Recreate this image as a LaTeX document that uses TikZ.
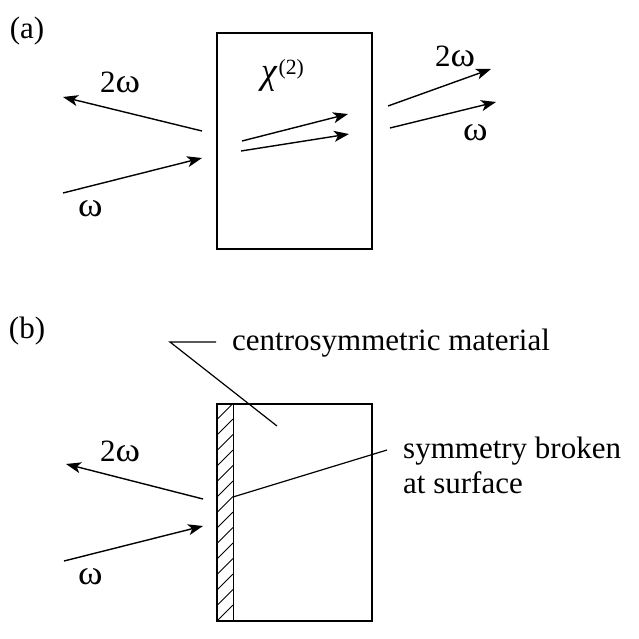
\documentclass[tikz,border=0pt]{standalone}
\usepackage{graphicx}
\usepackage{fontspec}
\setmainfont{Liberation Serif}
\usetikzlibrary{arrows.meta}
\newcommand{\omg}{\scalebox{1.2}[1.1]{ω}}
\begin{document}
\begin{tikzpicture}[x=1pt,y=-1pt,
  lbl/.style={inner sep=0pt,font=\fontsize{31}{35}\selectfont},
  ray/.style={line width=1.4pt,-{Stealth[length=15pt,width=11pt,inset=4pt]}},
  frame/.style={line width=1.4pt},
  leader/.style={line width=1.2pt}]
\useasboundingbox (0,0) rectangle (639,639);
% (a)
\node[lbl] (la) at (27,31) {(a)};
\draw[frame] (217,33) rectangle (372,249);
\node[lbl,anchor=base west] (chi) at (261,84) {\scalebox{1.15}[1.2]{\textit{χ}}\kern1pt\textsuperscript{(2)}};
\coordinate (a1s) at (202,131); \coordinate (a1e) at (63,97);
\coordinate (a2s) at (63,193); \coordinate (a2e) at (202,158);
\draw[ray] (a1s) -- (a1e);
\draw[ray] (a2s) -- (a2e);
\node[lbl,anchor=base west] (a2w) at (100,93) {2\omg};
\node[lbl,anchor=base west] (aw) at (78,216) {\omg};
\coordinate (i1s) at (242,141); \coordinate (i1e) at (348,114);
\coordinate (i2s) at (241,151); \coordinate (i2e) at (349,134);
\draw[ray] (i1s) -- (i1e);
\draw[ray] (i2s) -- (i2e);
\coordinate (o1s) at (388,106); \coordinate (o1e) at (491,69);
\coordinate (o2s) at (390,128); \coordinate (o2e) at (496,102);
\draw[ray] (o1s) -- (o1e);
\draw[ray] (o2s) -- (o2e);
\node[lbl,anchor=base west] (o2w) at (435,67) {2\omg};
\node[lbl,anchor=base west] (ow) at (463,141) {\omg};
% (b)
\node[lbl] (lb) at (27,331) {(b)};
\begin{scope}
\clip (217,404) rectangle (233,621);
\foreach \k in {0,...,15} {
  \draw[line width=0.9pt] (217,{404+15.5*\k}) -- (233,{404+15.5*\k-16});
}
\end{scope}
\draw[line width=0.8pt] (233,404) -- (233,621);
\draw[frame] (217,404) rectangle (372,621);
\coordinate (b1s) at (203,499); \coordinate (b1e) at (66,464);
\coordinate (b2s) at (64,561); \coordinate (b2e) at (203,526);
\draw[ray] (b1s) -- (b1e);
\draw[ray] (b2s) -- (b2e);
\node[lbl,anchor=base west] (b2w) at (100,461) {2\omg};
\node[lbl,anchor=base west] (bw) at (78,584) {\omg};
\node[lbl,anchor=base west] (cm) at (232,350) {centrosymmetric material};
\coordinate (c1) at (216,342); \coordinate (c2) at (170,342); \coordinate (c3) at (277,426);
\draw[leader] (c1) -- (c2) -- (c3);
\node[lbl,anchor=base west,align=left] (sb) at (403,493) {symmetry broken\\at surface};
\coordinate (s1) at (233,497); \coordinate (s2) at (387,450);
\draw[leader] (s1) -- (s2);
\end{tikzpicture}
\end{document}
